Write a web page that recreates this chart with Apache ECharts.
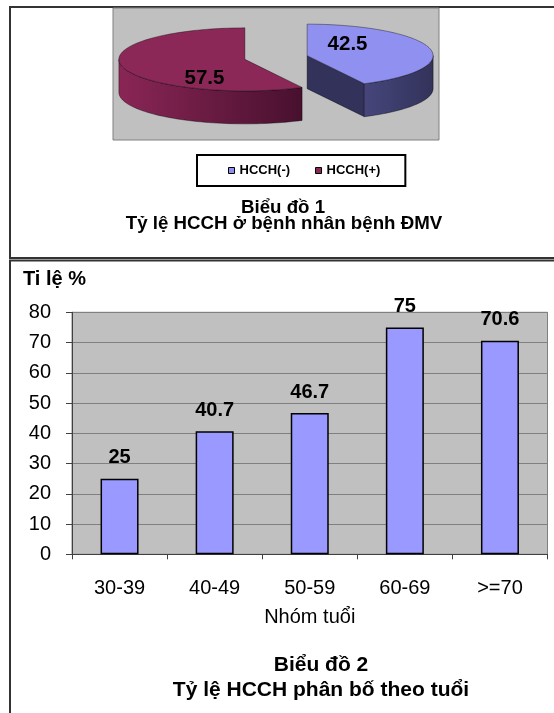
<!DOCTYPE html>
<html>
<head>
<meta charset="utf-8">
<script src="https://cdn.jsdelivr.net/npm/echarts@6/dist/echarts.min.js"></script>
<style>
  html, body { margin: 0; padding: 0; background: #fff; }
  #chart { width: 554px; height: 713px; }
</style>
</head>
<body>
<div id="chart"></div>
<script>
// Biểu đồ 1 – HCCH share among coronary patients
const pieNames = ['HCCH(-)', 'HCCH(+)'];
const pieValues = [42.5, 57.5];
const pieTopColors = ['#9090F0', '#8C2858'];
const pieSideColors = [['#46467C', '#32325A'], ['#8A2656', '#48102E']];

// Biểu đồ 2 – HCCH rate by age group
const ageGroups = ['30-39', '40-49', '50-59', '60-69', '>=70'];
const rateValues = [25, 40.7, 46.7, 75, 70.6];
const rateAxisMax = 80;
const rateAxisStep = 10;

const FONT = '"Liberation Sans", Arial, sans-serif';

// Geometry of the tilted, exploded pie (pixels)
const PIE = { cx: 276, cy: 57.5, rx: 126, ry: 31.5, depth: 33, explode: 32,
              labelRx: 0.33, labelRy: 66, labelDy: 4 };
const DEG = Math.PI / 180;

function sliceAngles(i) {
  const total = pieValues.reduce((a, b) => a + b, 0);
  let before = 0;
  for (let j = 0; j < i; j++) before += pieValues[j];
  return [before / total * 360, (before + pieValues[i]) / total * 360];
}

function makeSliceRenderer(i) {
  return function (params, api) {
    const [a0, a1] = sliceAngles(i);
    const mid = (a0 + a1) / 2 * DEG;
    const k = PIE.ry / PIE.rx;
    const ox = PIE.cx + PIE.explode * Math.sin(mid);
    const oy = PIE.cy - PIE.explode * Math.cos(mid) * k;
    const at = (deg, drop) => [ox + PIE.rx * Math.sin(deg * DEG),
                               oy - PIE.ry * Math.cos(deg * DEG) + (drop || 0)];
    const arc = (from, to, drop) => {
      const n = Math.max(2, Math.ceil(Math.abs(to - from) / 2));
      const pts = [];
      for (let s = 0; s <= n; s++) pts.push(at(from + (to - from) * s / n, drop));
      return pts;
    };
    const edge = { stroke: 'rgba(0,0,0,0.55)', lineWidth: 0.7 };
    const children = [];

    // flat cut faces that turn toward the viewer
    if (Math.sin(a1 * DEG) > 0.001) {
      children.push({ type: 'polygon', shape: { points: [[ox, oy], at(a1), at(a1, PIE.depth), [ox, oy + PIE.depth]] },
        style: Object.assign({ fill: pieSideColors[i][1] }, edge) });
    }
    if (Math.sin(a0 * DEG) < -0.001) {
      children.push({ type: 'polygon', shape: { points: [[ox, oy], at(a0), at(a0, PIE.depth), [ox, oy + PIE.depth]] },
        style: Object.assign({ fill: pieSideColors[i][1] }, edge) });
    }
    // front part of the outer wall
    const w0 = Math.max(a0, 90), w1 = Math.min(a1, 270);
    if (w1 > w0) {
      children.push({ type: 'polygon', shape: { points: arc(w0, w1, 0).concat(arc(w1, w0, PIE.depth)) },
        style: Object.assign({ fill: new echarts.graphic.LinearGradient(0, 0, 1, 0, [
          { offset: 0, color: pieSideColors[i][0] }, { offset: 1, color: pieSideColors[i][1] }]) }, edge) });
    }
    // top face
    children.push({ type: 'polygon', shape: { points: [[ox, oy]].concat(arc(a0, a1, 0)) },
      style: Object.assign({ fill: pieTopColors[i] }, edge) });
    // value label
    children.push({ type: 'text',
      x: ox + PIE.labelRx * PIE.rx * Math.sin(mid),
      y: oy - PIE.labelRy * Math.cos(mid) + PIE.labelDy,
      style: { text: String(api.value(0)), fill: '#000', font: 'bold 20.5px ' + FONT,
               align: 'center', verticalAlign: 'middle', textAlign: 'center', textVerticalAlign: 'middle' } });
    return { type: 'group', children };
  };
}

function label(text, x, y, size, bold, align) {
  return { type: 'text', x, y, z: 5,
    style: { text, fill: '#000', font: (bold ? 'bold ' : '') + size + 'px ' + FONT,
             align: align || 'center', verticalAlign: 'middle',
             textAlign: align || 'center', textVerticalAlign: 'middle' } };
}

const chart = echarts.init(document.getElementById('chart'), null, { renderer: 'canvas' });

const pieSeries = pieNames.map((name, i) => ({
  type: 'custom', name, coordinateSystem: 'none', z: 3,
  itemStyle: { color: pieTopColors[i] },
  data: [[pieValues[i]]],
  renderItem: makeSliceRenderer(i)
}));

chart.setOption({
  animation: false,
  backgroundColor: '#fff',
  textStyle: { fontFamily: FONT },
  graphic: [
    // frames around the two figures
    { type: 'rect', z: 0, shape: { x: 10, y: 7, width: 600, height: 251 },
      style: { fill: 'none', stroke: '#333', lineWidth: 2 } },
    { type: 'rect', z: 0, shape: { x: 10, y: 260.5, width: 600, height: 600 },
      style: { fill: 'none', stroke: '#333', lineWidth: 2 } },
    // pie plot area
    { type: 'rect', z: 0, shape: { x: 113, y: 8, width: 326, height: 132 },
      style: { fill: '#C0C0C0', stroke: '#808080', lineWidth: 1 } },
    label('Biểu đồ 1', 283, 207.5, 18.7, true),
    label('Tỷ lệ HCCH ở bệnh nhân bệnh ĐMV', 284, 224, 18.7, true),
    label('Ti lệ %', 23, 279, 20, true, 'left'),
    label('Biểu đồ 2', 321, 665.5, 21, true),
    label('Tỷ lệ HCCH phân bố theo tuổi', 321, 690.5, 21, true)
  ],
  legend: {
    data: pieNames,
    left: 197, top: 155,
    padding: [9, 25, 9, 31],
    itemGap: 25,
    itemWidth: 6, itemHeight: 6,
    icon: 'rect',
    borderColor: '#000', borderWidth: 2, borderRadius: 0,
    itemStyle: { borderColor: '#000', borderWidth: 1 },
    textStyle: { fontFamily: FONT, fontSize: 13, fontWeight: 'bold', color: '#000' },
    selectedMode: false
  },
  grid: {
    left: 72, right: 6.5, top: 312.3, bottom: 158.7,
    show: true, backgroundColor: '#C0C0C0', borderColor: '#808080', borderWidth: 1
  },
  xAxis: {
    type: 'category', data: ageGroups,
    name: 'Nhóm tuổi', nameLocation: 'middle', nameGap: 53,
    nameTextStyle: { fontFamily: FONT, fontSize: 20, color: '#000' },
    axisLine: { lineStyle: { color: '#404040', width: 1 } },
    axisTick: { show: true, length: 5, lineStyle: { color: '#404040' } },
    axisLabel: { fontFamily: FONT, fontSize: 20, color: '#000', margin: 24 }
  },
  yAxis: {
    type: 'value', min: 0, max: rateAxisMax, interval: rateAxisStep,
    axisLine: { show: true, lineStyle: { color: '#404040', width: 1 } },
    axisTick: { show: true, length: 6, lineStyle: { color: '#404040' } },
    axisLabel: { fontFamily: FONT, fontSize: 20, color: '#000', margin: 21 },
    splitLine: { show: true, lineStyle: { color: '#808080', width: 1 } }
  },
  series: pieSeries.concat([{
    type: 'bar', name: 'Tỉ lệ', data: rateValues, barWidth: 38,
    itemStyle: { color: '#9999FF', borderColor: '#000', borderWidth: 1.5 },
    label: { show: true, position: 'top', distance: 11, fontFamily: FONT,
             fontSize: 20, fontWeight: 'bold', color: '#000' }
  }])
});
</script>
</body>
</html>
